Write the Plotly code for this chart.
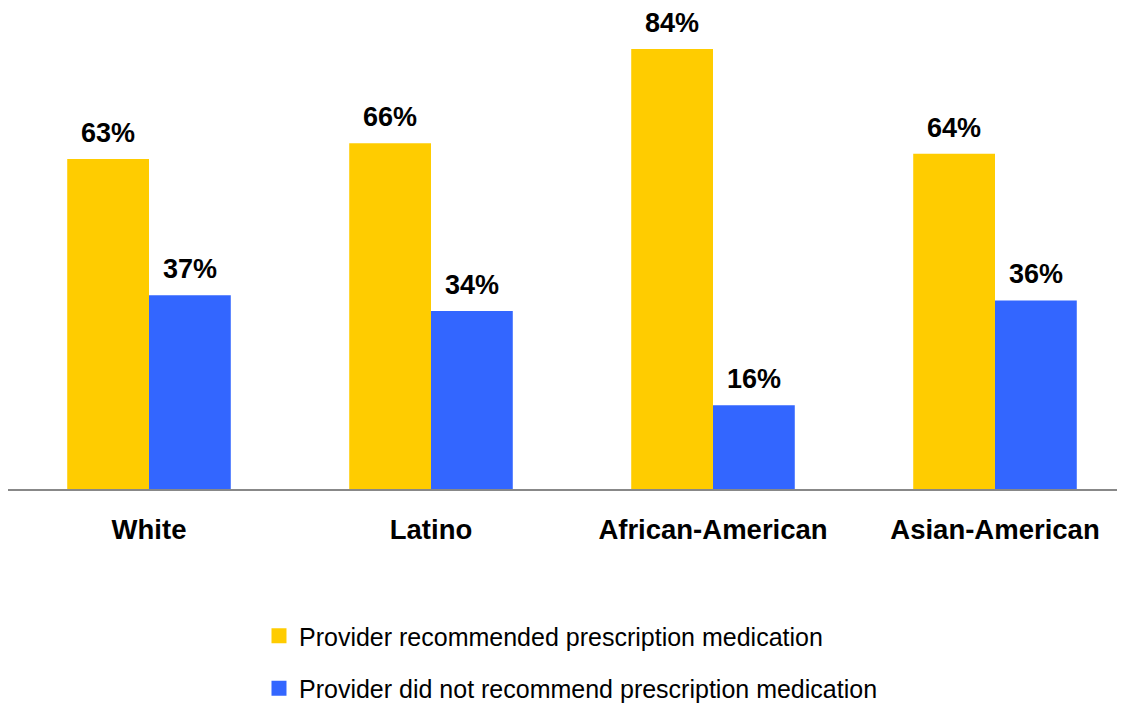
import plotly.graph_objects as go

categories = ["White", "Latino", "African-American", "Asian-American"]
recommended = [63, 66, 84, 64]
not_recommended = [37, 34, 16, 36]
series_names = ["Provider recommended prescription medication",
                "Provider did not recommend prescription medication"]
colors = ["#FFCC00", "#3366FF"]

FONT = "Arial, Liberation Sans, sans-serif"

fig = go.Figure()
for vals, name, col in zip([recommended, not_recommended], series_names, colors):
    fig.add_trace(go.Bar(x=categories, y=vals, name=name, marker_color=col,
                         marker_line_width=0, showlegend=False))
# legend entries with larger square symbols
for i, (name, col) in enumerate(zip(series_names, colors)):
    fig.add_trace(go.Scatter(x=[None], y=[None], mode="markers", name=name,
                             legendgroup=f"g{i}",
                             marker=dict(symbol="square", size=15, color=col)))

# value labels
for vals, shift in [(recommended, -41), (not_recommended, 41)]:
    for c, v in zip(categories, vals):
        fig.add_annotation(x=c, y=v, text=f"{v}%", showarrow=False,
                           xshift=shift, yshift=26, yanchor="middle",
                           font=dict(family=FONT, size=27, color="black", weight="bold"))

fig.update_layout(
    width=1117, height=740,
    margin=dict(l=0, r=0, t=0, b=259),
    paper_bgcolor="white", plot_bgcolor="white",
    barmode="group", bargap=0.42, bargroupgap=0,
    font=dict(family=FONT, color="black"),
    xaxis=dict(range=[-0.5, 3.461], showline=True, linecolor="#888888", linewidth=2,
               showgrid=False, ticks="", ticklabelstandoff=15,
               tickfont=dict(family=FONT, size=27.5, color="black", weight="bold")),
    yaxis=dict(range=[0, 91.83], visible=False, showgrid=False),
    legend=dict(x=0.2247, y=-0.2578, xanchor="left", yanchor="top",
                orientation="v", traceorder="grouped", tracegroupgap=17,
                font=dict(family=FONT, size=25, color="black"),
                bgcolor="rgba(0,0,0,0)"),
)

fig.write_html("out.html")
